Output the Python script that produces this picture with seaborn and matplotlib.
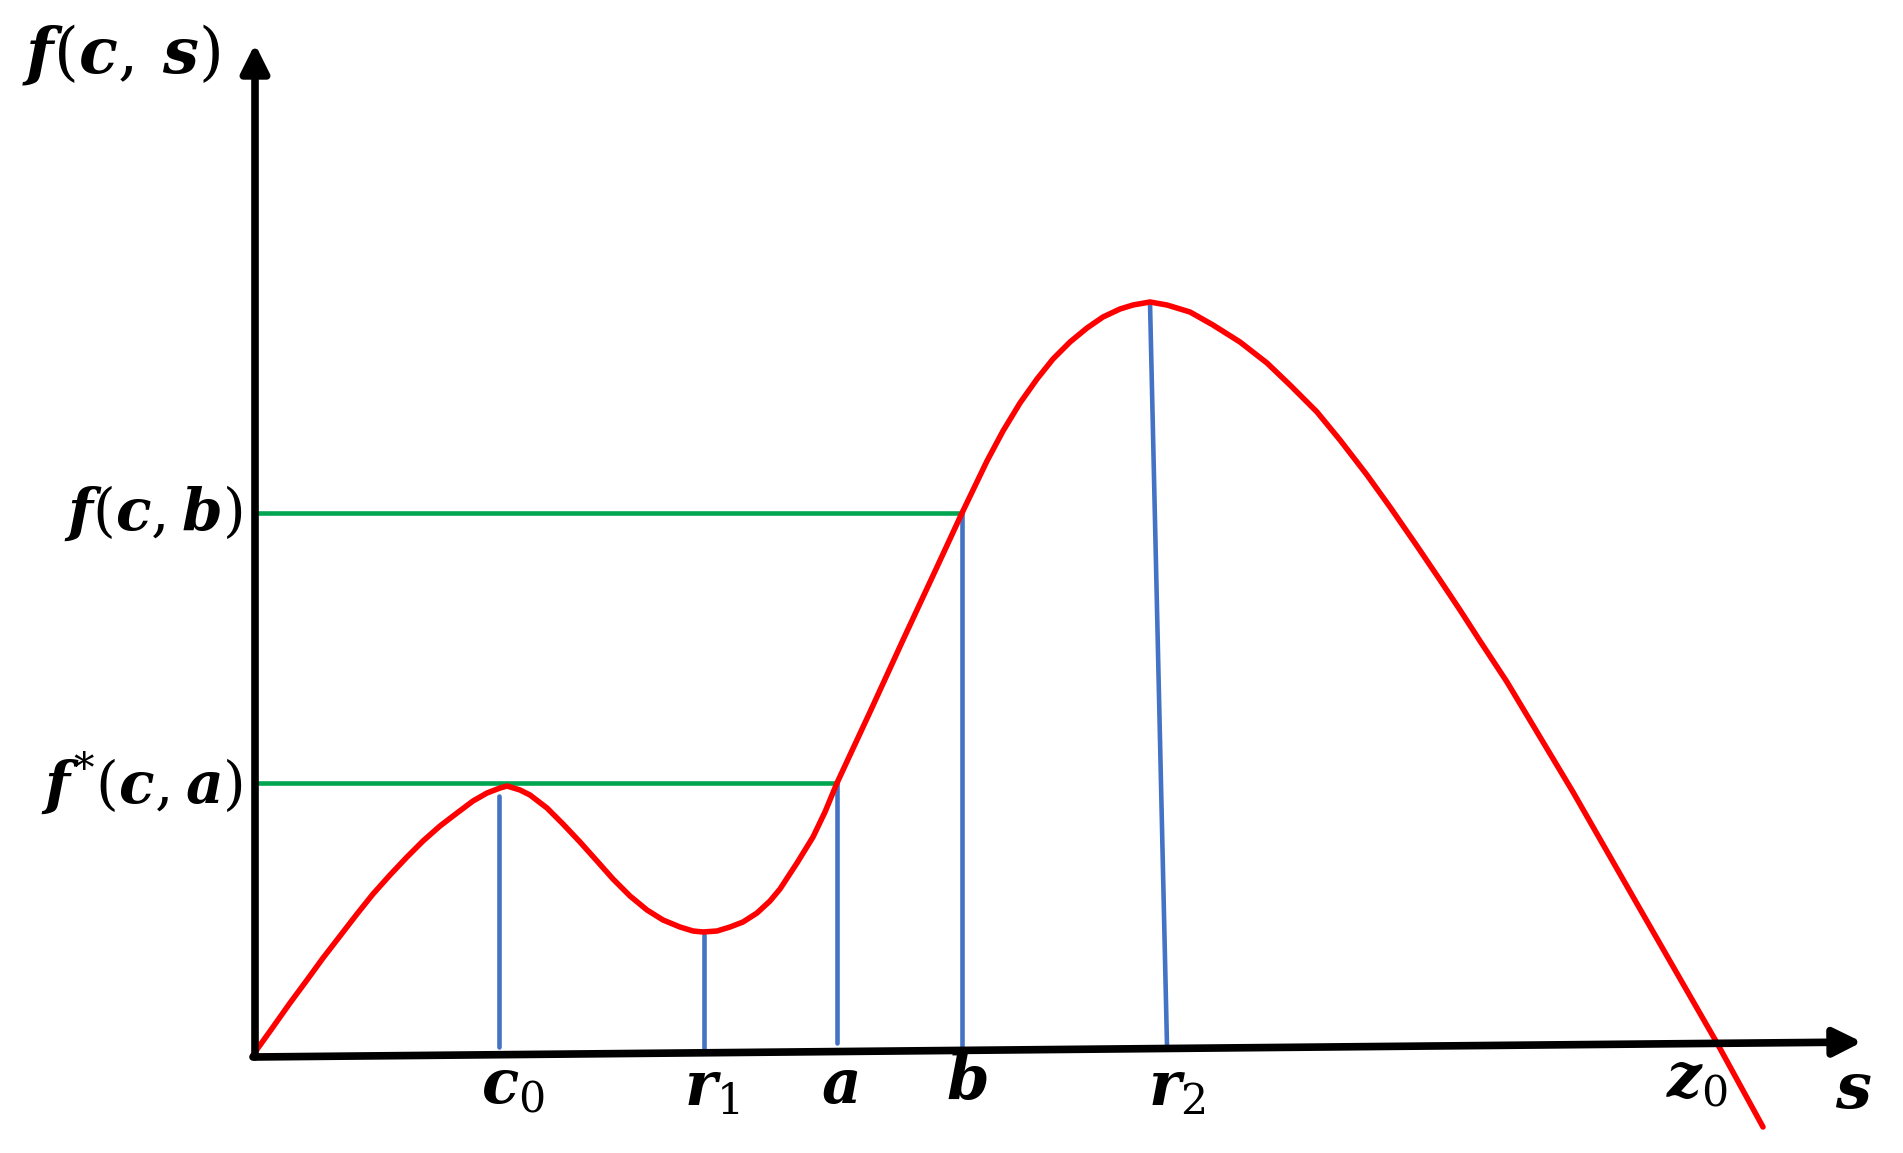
import pandas as pd
import matplotlib.pyplot as plt
import seaborn as sns

curve_s = [253, 273, 290, 307, 323, 340, 357, 373, 390, 407, 423, 440, 457,
           473, 487, 500, 507, 520, 530, 547, 563, 580, 597, 613, 630, 647, 663,
           680, 693, 703, 717, 730, 743, 757, 770, 780, 797, 813, 825, 837, 850,
           870, 903, 937, 962, 987, 1003, 1020, 1037, 1053, 1070, 1087, 1103,
           1120, 1133, 1150, 1167, 1190, 1213, 1240, 1267, 1290, 1317, 1340,
           1367, 1390, 1417, 1440, 1460, 1480, 1507, 1573, 1640, 1717, 1763]
curve_f = [98, 126, 150, 173, 195, 217, 239, 259, 278, 296, 312, 327, 340,
           352, 360, 365, 367, 363, 358, 345, 329, 311, 292, 274, 257, 243, 233,
           226, 222, 221, 222, 226, 231, 240, 252, 264, 290, 316, 341, 370, 398,
           441, 513, 586, 640, 692, 722, 750, 774, 794, 811, 825, 836,
           844, 848, 851, 848, 841, 828, 811, 790, 768, 741, 713,
           678, 646, 607, 573, 543, 512, 471, 361, 244, 110, 26]

# Vertical drop lines (blue): bottom x, bottom y, top x, top y
drop_names = ["c0", "r1", "a", "b", "r2"]
drop_x0 = [499, 704, 837, 962, 1167]
drop_y0 = [106, 102, 110, 107, 107]
drop_x1 = [499, 704, 837, 962, 1150]
drop_y1 = [357, 218, 370, 640, 851]

# Horizontal level lines (green)
level_y = [370, 640]
level_x_end = [837, 962]
level_labels = [r"$f^{*}(c,a)$", r"$f(c,b)$"]

# Axis ticks along s
tick_labels = [r"$c_0$", r"$r_1$", r"$a$", r"$b$", r"$r_2$", r"$z_0$"]
tick_x = [513, 712, 840, 967, 1177, 1697]
tick_y = [67, 64, 67, 70, 64, 73]

sns.set_theme(style="white")
plt.rcParams["text.color"] = "black"
plt.rcParams["mathtext.fontset"] = "custom"
plt.rcParams["mathtext.it"] = "DejaVu Serif:italic:bold"
plt.rcParams["mathtext.rm"] = "DejaVu Serif"
plt.rcParams["mathtext.bf"] = "DejaVu Serif:bold"

fig = plt.figure(figsize=(19.03, 11.53), dpi=100)
ax = fig.add_axes([0, 0, 1, 1])
ax.set_xlim(0, 1903)
ax.set_ylim(0, 1153)
ax.axis("off")

# axes with arrows
arrow = dict(arrowstyle="-|>,head_length=0.6,head_width=0.3", lw=5.5, color="black",
             mutation_scale=28, shrinkA=0, shrinkB=0, capstyle="round")
ax.annotate("", xy=(255, 1109), xytext=(255, 96), arrowprops=arrow)
ax.annotate("", xy=(1862, 111), xytext=(253, 96), arrowprops=arrow)

# green levels
green = pd.DataFrame({
    "x": [255, level_x_end[0], 255, level_x_end[1]],
    "y": [level_y[0], level_y[0], level_y[1], level_y[1]],
    "seg": [0, 0, 1, 1],
})
sns.lineplot(data=green, x="x", y="y", units="seg", estimator=None, sort=False,
             color="#00a550", lw=3.3, ax=ax)

# blue drops
rows = []
for i, n in enumerate(drop_names):
    rows.append((drop_x0[i], drop_y0[i], n))
    rows.append((drop_x1[i], drop_y1[i], n))
blue = pd.DataFrame(rows, columns=["x", "y", "seg"])
sns.lineplot(data=blue, x="x", y="y", units="seg", estimator=None, sort=False,
             color="#4472c4", lw=3.3, ax=ax)

# red curve
sns.lineplot(x=curve_s, y=curve_f, sort=False, estimator=None, color="red",
             lw=4.0, ax=ax)
ax.set_xlabel("")
ax.set_ylabel("")

# labels
for lab, x, y in zip(tick_labels, tick_x, tick_y):
    ax.text(x, y, lab, fontsize=44, ha="center", va="center")
ax.text(1853, 63, r"$s$", fontsize=46, ha="center", va="center")
for lab, y in zip(level_labels, level_y):
    ax.text(243, y, lab, fontsize=42, ha="right", va="center")
ax.text(121, 1098, r"$f(c,\,s)$", fontsize=46, ha="center", va="center")

plt.savefig("out.png", dpi=100)
